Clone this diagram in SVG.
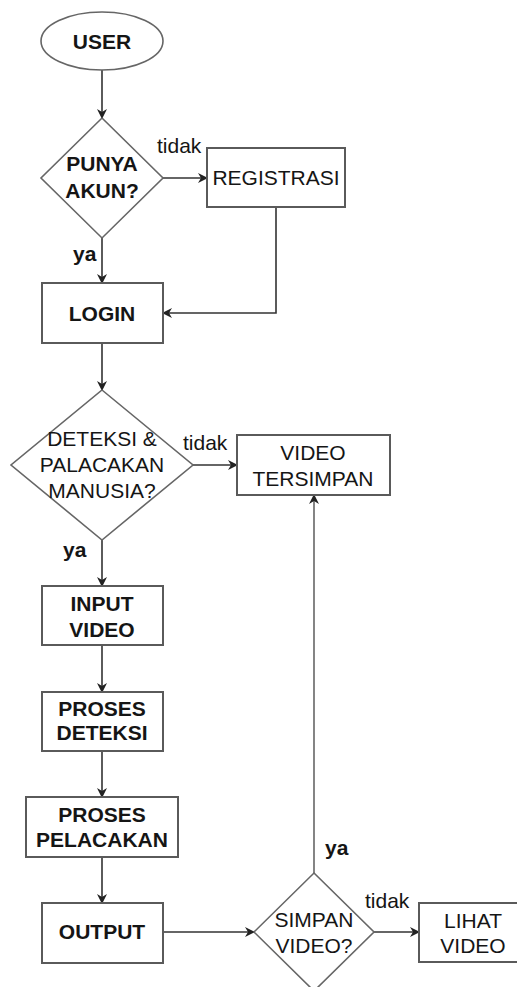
<svg xmlns="http://www.w3.org/2000/svg" width="517" height="987" viewBox="0 0 517 987">
<defs>
<marker id="ah" markerWidth="10" markerHeight="10" refX="9" refY="5" orient="auto" markerUnits="userSpaceOnUse">
<path d="M0,0 L10,5 L0,10 L3,5 Z" fill="#222"/>
</marker>
<style>
.shape{fill:#fff;stroke:#5a5a5a;stroke-width:2}
.dia{fill:#fff;stroke:#666;stroke-width:1.6}
.t{font-family:"Liberation Sans",Arial,sans-serif;font-size:21px;fill:#151515;text-anchor:middle}
.b{font-weight:bold}
.lbl{font-family:"Liberation Sans",Arial,sans-serif;font-size:21px;fill:#151515}
.c{fill:none;stroke:#333;stroke-width:1.6;marker-end:url(#ah)}
</style>
</defs>
<rect width="517" height="987" fill="#fff"/>
<g id="connectors">
<path class="c" d="M102,70 L102,118"/>
<path class="c" d="M163,178 L207,178"/>
<path class="c" d="M102,238 L102,283"/>
<path class="c" d="M276,207 L276,313 L163,313"/>
<path class="c" d="M102,343 L102,390"/>
<path class="c" d="M193,465 L237,465"/>
<path class="c" d="M102,540 L102,586"/>
<path class="c" d="M102,645 L102,692"/>
<path class="c" d="M102,751 L102,797"/>
<path class="c" d="M102,857 L102,903"/>
<path class="c" d="M163,932 L254,932"/>
<path class="c" style="stroke:#666" d="M314,873 L314,495"/>
<path class="c" d="M374,932 L419,932"/>
<text class="lbl" x="157" y="153">tidak</text>
<text class="lbl b" x="73" y="261">ya</text>
<text class="lbl" x="183" y="450">tidak</text>
<text class="lbl b" x="63" y="557">ya</text>
<text class="lbl b" x="325" y="855">ya</text>
<text class="lbl" x="365" y="908">tidak</text>
</g>
<g id="user">
<ellipse class="dia" cx="102" cy="41" rx="61" ry="29"/>
<text class="t b" x="102" y="49">USER</text>
</g>
<g id="punya-akun">
<polygon class="dia" points="102,118 163,178 102,238 41,178"/>
<text class="t b" x="102" y="171">PUNYA</text>
<text class="t b" x="102" y="198">AKUN?</text>
</g>
<g id="registrasi">
<rect class="shape" x="207" y="148" width="138" height="59"/>
<text class="t" x="276" y="185">REGISTRASI</text>
</g>
<g id="login">
<rect class="shape" x="42" y="283" width="121" height="60"/>
<text class="t b" x="102" y="321">LOGIN</text>
</g>
<g id="deteksi-pelacakan">
<polygon class="dia" points="102,390 193,465 102,540 11,465"/>
<text class="t" x="102" y="446">DETEKSI &amp;</text>
<text class="t" x="102" y="472">PALACAKAN</text>
<text class="t" x="102" y="498">MANUSIA?</text>
</g>
<g id="video-tersimpan">
<rect class="shape" x="237" y="435" width="153" height="60"/>
<text class="t" x="313" y="460">VIDEO</text>
<text class="t" x="313" y="486">TERSIMPAN</text>
</g>
<g id="input-video">
<rect class="shape" x="42" y="586" width="121" height="59"/>
<text class="t b" x="102" y="611">INPUT</text>
<text class="t b" x="102" y="637">VIDEO</text>
</g>
<g id="proses-deteksi">
<rect class="shape" x="42" y="692" width="121" height="59"/>
<text class="t b" x="102" y="716">PROSES</text>
<text class="t b" x="102" y="740">DETEKSI</text>
</g>
<g id="proses-pelacakan">
<rect class="shape" x="26" y="797" width="152" height="60"/>
<text class="t b" x="102" y="822">PROSES</text>
<text class="t b" x="102" y="847">PELACAKAN</text>
</g>
<g id="output">
<rect class="shape" x="42" y="903" width="121" height="60"/>
<text class="t b" x="102" y="939">OUTPUT</text>
</g>
<g id="simpan-video">
<polygon class="dia" points="314,873 374,932 314,991 254,932"/>
<text class="t" x="314" y="927">SIMPAN</text>
<text class="t" x="314" y="953">VIDEO?</text>
</g>
<g id="lihat-video">
<rect class="shape" x="419" y="903" width="102" height="59"/>
<text class="t" x="473" y="928">LIHAT</text>
<text class="t" x="473" y="953">VIDEO</text>
</g>
</svg>
